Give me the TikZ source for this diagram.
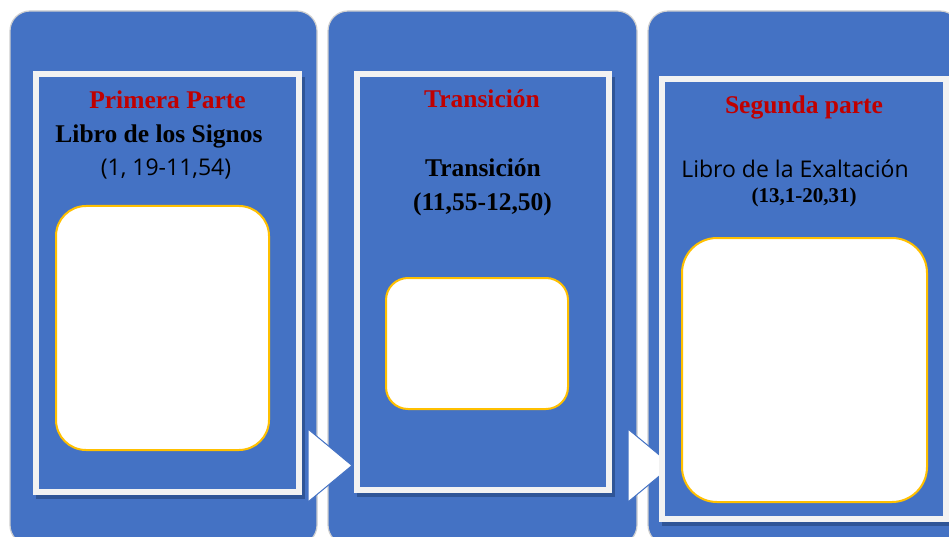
\documentclass[tikz,border=0pt]{standalone}
\usepackage{fontspec}
\setmainfont{Liberation Serif}
\newfontfamily\osans{Open Sans}
\definecolor{pblue}{HTML}{4472C4}
\definecolor{pred}{HTML}{C00000}
\definecolor{pyellow}{HTML}{FFC000}
\definecolor{pframe}{HTML}{F2F2F2}
\definecolor{pshadow}{HTML}{2F5597}
\definecolor{pedge}{HTML}{CFCFCF}
\tikzset{
  panel/.style={fill=pblue, draw=pedge, line width=1.2pt, rounded corners=20pt},
  framebox/.style={fill=pblue, draw=pframe, line width=6pt},
  shadowbox/.style={fill=pshadow},
  card/.style={fill=white, draw=pyellow, line width=2pt},
  chev/.style={fill=white, draw=pblue, line width=1pt, line join=miter},
  redtitle/.style={anchor=base, text=pred, font=\bfseries\fontsize{25.5}{30}\selectfont, inner sep=0pt},
  bodyb/.style={anchor=base, text=black, font=\bfseries\fontsize{25.5}{30}\selectfont, inner sep=0pt},
  bodys/.style={anchor=base, text=black, font=\osans\fontsize{23}{27}\selectfont, inner sep=0pt},
  smallb/.style={anchor=base, text=black, font=\bfseries\fontsize{21}{25}\selectfont, inner sep=0pt}
}
\begin{document}
\begin{tikzpicture}[x=1pt,y=-1pt]
\useasboundingbox (0,0) rectangle (949,537);
\clip (0,0) rectangle (949,537);
\fill[white] (0,0) rectangle (949,537);
% panels
\draw[panel] (10,11) rectangle (317,545);
\draw[panel] (328,11) rectangle (637,545);
\draw[panel] (648,11) rectangle (960,545);
% arrows
\draw[chev] (308,429) -- (352,465.5) -- (308,502) -- cycle;
\draw[chev] (628,429) -- (672,465.5) -- (628,502) -- cycle;
% frames with shadows
\fill[shadowbox] (36,77) rectangle (305,499);
\draw[framebox] (36,74) rectangle (299,492);
\fill[shadowbox] (357,77) rectangle (615,497);
\draw[framebox] (357,74) rectangle (609,490);
\fill[shadowbox] (662,82) rectangle (955,526);
\draw[framebox] (662,79) rectangle (946,519);
% cards
\draw[card, rounded corners=30pt] (56,206) rectangle (269,450);
\draw[card, rounded corners=22pt] (386,278) rectangle (568,409);
\draw[card, rounded corners=35pt] (682,238) rectangle (927,502);
% texts
\node[redtitle] (t1) at (167.5,109) {Primera Parte};
\node[bodyb] (l1) at (159,143) {Libro de los Signos};
\node[bodys] (r1) at (166,176) {(1, 19-11,54)};
\node[redtitle] (t2) at (482,108) {Transición};
\node[bodyb] (l2) at (483,177) {Transición};
\node[bodyb] (r2) at (482.5,210.5) {(11,55-12,50)};
\node[redtitle] (t3) at (804,114) {Segunda parte};
\node[bodys] (l3) at (795,178) {Libro de la Exaltación};
\node[smallb] (r3) at (804,203) {(13,1-20,31)};
\end{tikzpicture}
\end{document}
